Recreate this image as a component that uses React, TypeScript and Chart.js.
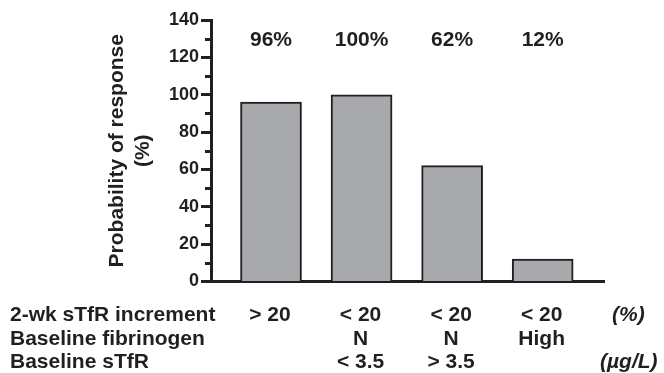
import React, { useEffect, useRef } from 'react';
import { Chart, registerables } from 'chart.js';

Chart.register(...registerables);

// ---- data ----
const categoryPositions = [1, 2, 3, 4];
const responseValues = [96, 100, 62, 12];
const yAxisTitle = ['Probability of response', '(%)'];
const yMin = 0;
const yMax = 140;
const yStep = 20;
const rowLabels = ['2-wk sTfR increment', 'Baseline fibrinogen', 'Baseline sTfR'];
const incrementRow = ['> 20', '< 20', '< 20', '< 20'];
const fibrinogenRow = ['', 'N', 'N', 'High'];
const sTfRRow = ['', '< 3.5', '> 3.5', ''];
const rowUnits = ['(%)', '', '(µg/L)'];

const INK = '#231f20';
const BAR_FILL = '#a7a9ac';
const FONT = '"Liberation Sans", Arial, Helvetica, sans-serif';

const annotate = {
  id: 'annotate',
  afterDraw(chart: any) {
    const { ctx, chartArea, scales } = chart;
    const x = scales.x;
    const y = scales.y;
    ctx.save();
    // minor ticks
    ctx.strokeStyle = INK;
    ctx.lineWidth = 3;
    for (let v = yMin + yStep / 2; v < yMax; v += yStep) {
      const py = Math.round(y.getPixelForValue(v)) + 0.5;
      ctx.beginPath();
      ctx.moveTo(chartArea.left - 6, py);
      ctx.lineTo(chartArea.left, py);
      ctx.stroke();
    }
    // percentage labels
    ctx.fillStyle = INK;
    ctx.font = `bold 21px ${FONT}`;
    ctx.textAlign = 'center';
    ctx.textBaseline = 'middle';
    responseValues.forEach((v, i) => {
      ctx.fillText(`${v}%`, x.getPixelForValue(categoryPositions[i]), y.getPixelForValue(129));
    });
    // table below
    ctx.textBaseline = 'alphabetic';
    const rows = [incrementRow, fibrinogenRow, sTfRRow];
    const baselines = [320.5, 344.5, 368];
    const unitX = [612, 0, 600];
    rows.forEach((row, r) => {
      const by = baselines[r];
      ctx.font = `bold 21px ${FONT}`;
      ctx.textAlign = 'left';
      ctx.fillText(rowLabels[r], 10, by);
      ctx.textAlign = 'center';
      row.forEach((t, i) => {
        if (t) ctx.fillText(t, x.getPixelForValue(categoryPositions[i]) - 1, by);
      });
      if (rowUnits[r]) {
        ctx.font = `italic bold 21px ${FONT}`;
        ctx.textAlign = 'left';
        ctx.fillText(rowUnits[r], unitX[r], by);
      }
    });
    ctx.restore();
  },
};

export default function App() {
  const canvasRef = useRef<HTMLCanvasElement>(null);

  useEffect(() => {
    const canvas = canvasRef.current;
    if (!canvas) return;
    const chart = new Chart(canvas, {
      type: 'bar',
      data: {
        datasets: [
          {
            data: responseValues.map((v, i) => ({ x: categoryPositions[i], y: v })),
            backgroundColor: BAR_FILL,
            borderColor: INK,
            borderWidth: 2,
            barThickness: 61,
          },
        ],
      },
      options: {
        responsive: false,
        animation: false,
        devicePixelRatio: 1,
        layout: { padding: { top: 20, bottom: 91.5, right: 60, left: 0 } },
        plugins: { legend: { display: false }, tooltip: { enabled: false } },
        scales: {
          x: {
            type: 'linear',
            offset: false,
            min: 0.3375,
            max: 4.677,
            ticks: { display: false },
            grid: { display: false, offset: false },
            border: { display: true, width: 3, color: INK },
            afterFit: (s: any) => {
              s.height = 0;
            },
          },
          y: {
            min: yMin,
            max: yMax,
            ticks: {
              stepSize: yStep,
              color: INK,
              padding: 2,
              font: { family: FONT, size: 18, weight: 'bold' },
            },
            grid: {
              display: true,
              drawOnChartArea: false,
              drawTicks: true,
              tickLength: 10,
              tickWidth: 3,
              tickColor: INK,
              color: INK,
            },
            border: { display: true, width: 3, color: INK },
            title: {
              display: true,
              text: yAxisTitle,
              color: INK,
              font: { family: FONT, size: 21, weight: 'bold', lineHeight: 1.25 },
              padding: { top: 104, bottom: 0 },
            },
            afterFit: (s: any) => {
              s.width = 211;
            },
          },
        },
      },
      plugins: [annotate],
    } as any);
    return () => chart.destroy();
  }, []);

  return (
    <div style={{ position: 'fixed', left: 0, top: 0, width: 664, height: 373, background: '#fff' }}>
      <canvas ref={canvasRef} width={664} height={373} style={{ display: 'block' }} />
    </div>
  );
}
